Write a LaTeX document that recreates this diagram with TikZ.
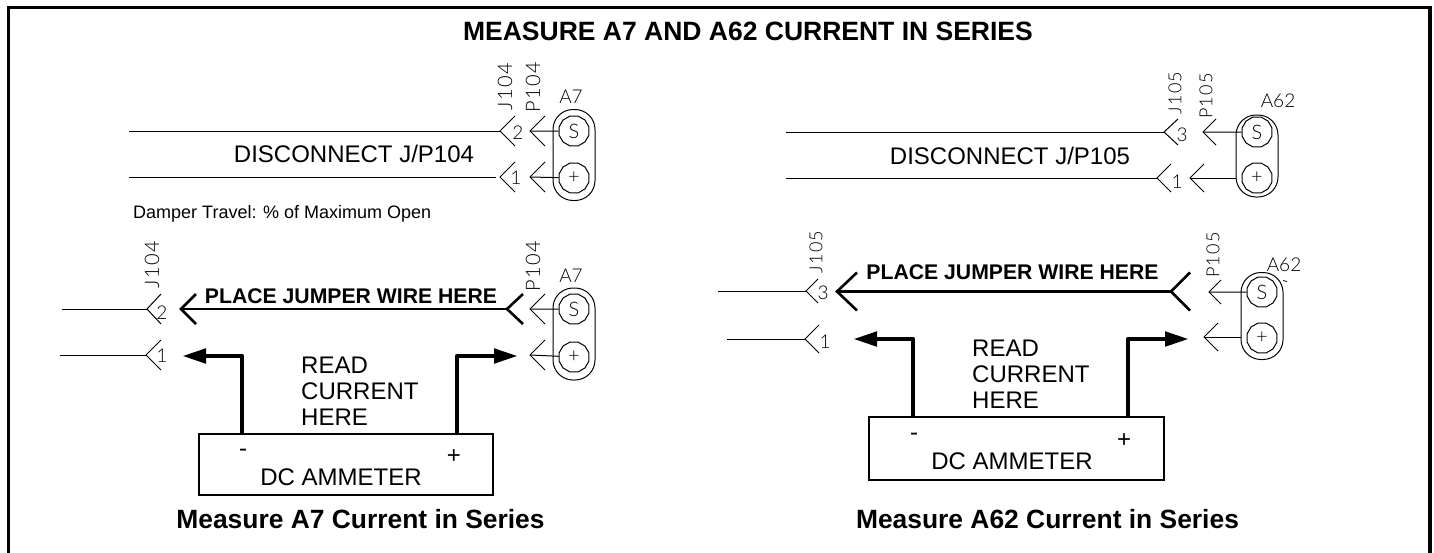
\documentclass[tikz,border=0pt]{standalone}
\usepackage{fontspec}
\setmainfont{Liberation Sans}
\newfontfamily\cad[LetterSpace=7]{Lato Light}
\newfontfamily\cadn{Lato Light}
\usetikzlibrary{arrows.meta,shapes.geometric,calc}
\tikzset{
  wire/.style={line width=1pt,draw=black},
  chev/.style={line width=1pt,draw=black},
  boldchev/.style={line width=2.6pt,draw=black},
  jumper/.style={line width=2.6pt,draw=black},
  meter/.style={line width=4.8pt,draw=black,line join=round,-{Triangle[length=24pt,width=14pt]}},
  pin/.style={regular polygon,regular polygon sides=12,draw,line width=1pt,inner sep=0pt,minimum size=31pt,font=\cadn\fontsize{20}{20}\selectfont},
  shell/.style={draw,line width=1pt,rectangle,rounded corners=20pt,minimum width=42pt,inner sep=0pt},
  cadv/.style={font=\cad\fontsize{20}{20}\selectfont,rotate=90,inner sep=0pt},
  cadvs/.style={font=\cad\fontsize{18}{18}\selectfont,rotate=90,inner sep=0pt},
  cadh/.style={font=\cadn\fontsize{19}{19}\selectfont,inner sep=0pt},
  mtr/.style={font=\fontsize{24}{26}\selectfont,inner sep=0pt},
  jlbl/.style={font=\bfseries\fontsize{21.2}{21.2}\selectfont,inner sep=0pt},
  captxt/.style={font=\bfseries\fontsize{26.4}{26.4}\selectfont,inner sep=0pt},
  ttl/.style={font=\bfseries\fontsize{26.5}{26.5}\selectfont,inner sep=0pt},
  meterbox/.style={draw,line width=1.5pt,rectangle,inner sep=0pt},
}
\newcommand{\chv}[6][chev]{% style, name, tip x, tip y, dx, up/down
  \coordinate (#2) at (#3,#4);
  \draw[#1] ($(#2)+(#5,-#6)$) -- (#2) -- ($(#2)+(#5,#6)$);}
\begin{document}
\begin{tikzpicture}[x=1pt,y=-1pt]
\useasboundingbox (0,0) rectangle (1434,552);
\draw[line width=3.5pt] (8.5,553) -- (8.5,7.5) -- (1430,7.5) -- (1430,553);
\node[ttl] (title) at (748,31) {MEASURE A7 AND A62 CURRENT IN SERIES};

% ---------- A7 top
\coordinate (w1) at (129,131); \coordinate (w2) at (129,177);
\coordinate (w1e) at (500,131); \coordinate (w2e) at (496,177);
\draw[wire] (w1) -- (w1e); \draw[wire] (w2) -- (w2e);
\chv{ja}{500}{131}{15}{15} \chv{jb}{500}{177}{15}{15}
\chv{pa}{530}{131}{15}{15} \chv{pb}{530}{177}{15}{15}
\node[shell,minimum height=91pt] (sh1) at (574,155) {};
\node[pin] (s1) at (574,131) {S};
\node[pin] (p1) at (574,178) {+};
\draw[wire] (pa) -- (s1); \draw[wire] (pb) -- (p1);
\node[cadv] (tj1) at (505,87) {J104};
\node[cadv] (tp1) at (533,87) {P104};
\node[cadh] (ta1) at (571,97) {A7};
\node[cadh] (n2a) at (518,133) {2};
\node[cadh] (n1a) at (516,178) {1};
\node[mtr] (d1) at (354,154) {DISCONNECT J/P104};
\node[font=\fontsize{18}{18}\selectfont,inner sep=0pt,anchor=west] (damper) at (133,214) {Damper Travel: \% of Maximum Open};

% ---------- A7 bottom
\coordinate (w3) at (62,309); \coordinate (w4) at (60,355);
\chv{jc}{147}{309}{14}{15} \chv{jd}{146}{355}{15}{15}
\draw[wire] (w3) -- (jc); \draw[wire] (w4) -- (jd);
\chv{pc}{530}{309}{15}{15} \chv{pd}{530}{355}{15}{15}
\node[shell,minimum height=92pt] (sh2) at (574,334) {};
\node[pin] (s2) at (574,309) {S};
\node[pin] (p2) at (574,357) {+};
\draw[wire] (pc) -- (s2); \draw[wire] (pd) -- (p2);
\node[cadv] (tj2) at (152,265) {J104};
\node[cadv] (tp2) at (533,266) {P104};
\node[cadh] (ta2) at (571,276) {A7};
\node[cadh] (n2b) at (162,313) {2};
\node[cadh] (n1b) at (162,356) {1};
\chv[boldchev]{bl1}{181}{309}{15}{15}
\chv[boldchev]{br1}{507}{309}{16}{15}
\draw[jumper] (bl1) -- (br1);
\node[jlbl] (jt1) at (351,296) {PLACE JUMPER WIRE HERE};
\node[mtr,align=left,anchor=north west] (rd1) at (301,357) {READ\\CURRENT\\HERE};
\node[meterbox,minimum width=294pt,minimum height=61pt] (box1) at (346,464.5) {};
\node[mtr] (dc1) at (341,477) {DC AMMETER};
\node[mtr] (m1) at (243,453) {-};
\node[mtr] (pl1) at (454,457) {+};
\coordinate (ah1) at (182,356); \coordinate (ah2) at (518,356);
\coordinate (mb1) at (242,434); \coordinate (mb2) at (457,434);
\draw[meter] (mb1) |- (ah1);
\draw[meter] (mb2) |- (ah2);
\node[captxt] (c1) at (360.5,519) {Measure A7 Current in Series};

% ---------- A62 top
\coordinate (w5) at (786,132); \coordinate (w6) at (786,178);
\chv{je}{1164}{132}{14}{13} \chv{jf}{1157}{178}{14}{14}
\draw[wire] (w5) -- (je); \draw[wire] (w6) -- (jf);
\chv{pe}{1203}{132}{13}{13} \chv{pf}{1190}{178}{14}{14}
\node[shell,minimum height=82pt] (sh3) at (1257,156) {};
\node[pin] (s3) at (1257,132) {S};
\node[pin] (p3) at (1257,178) {+};
\draw[wire] (pe) -- (s3); \draw[wire] (pf) -- (sh3.west |- pf);
\node[cadvs] (tj3) at (1175,93) {J105};
\node[cadvs] (tp3) at (1206,96) {P105};
\node[cadh] (ta3) at (1278,101) {A62};
\node[cadh] (n3a) at (1182,135) {3};
\node[cadh] (n1c) at (1177,182) {1};
\node[mtr] (d2) at (1010,156) {DISCONNECT J/P105};

% ---------- A62 bottom
\coordinate (w7) at (718,291); \coordinate (w8) at (727,339);
\chv{jg}{806}{291}{12}{12} \chv{jh}{805}{339}{14}{14}
\draw[wire] (w7) -- (jg); \draw[wire] (w8) -- (jh);
\chv{pg}{1209}{292}{12}{12} \chv{ph}{1204}{337}{14}{14}
\node[shell,minimum height=87pt] (sh4) at (1262,316) {};
\node[pin] (s4) at (1262,292) {S};
\node[pin] (p4) at (1262,338) {+};
\draw[wire] (pg) -- (s4); \draw[wire] (ph) -- (sh4.west |- ph);
\node[cadvs] (tj4) at (816,252) {J105};
\node[cadvs] (tp4) at (1213,255) {P105};
\node[cadh] (ta4) at (1284,265) {A62};
\draw[line width=.8pt] (1283,280.5) -- (1287,281.5);
\node[cadh] (n3b) at (823,293) {3};
\node[cadh] (n1d) at (825,342) {1};
\chv[boldchev]{bl2}{837}{291.5}{20}{19}
\chv[boldchev]{br2}{1171}{291.5}{19}{19}
\draw[jumper] (bl2) -- (br2);
\node[jlbl] (jt2) at (1012.5,272) {PLACE JUMPER WIRE HERE};
\node[mtr,align=left,anchor=north west] (rd2) at (972,340) {READ\\CURRENT\\HERE};
\node[meterbox,minimum width=295pt,minimum height=63pt] (box2) at (1016.5,448.5) {};
\node[mtr] (dc2) at (1012,461) {DC AMMETER};
\node[mtr] (m2) at (914,437) {-};
\node[mtr] (pl2) at (1124,441) {+};
\coordinate (ah3) at (853,339); \coordinate (ah4) at (1189,339);
\coordinate (mb3) at (913,417); \coordinate (mb4) at (1128,417);
\draw[meter] (mb3) |- (ah3);
\draw[meter] (mb4) |- (ah4);
\node[captxt] (c2) at (1047.5,519) {Measure A62 Current in Series};
\end{tikzpicture}
\end{document}
